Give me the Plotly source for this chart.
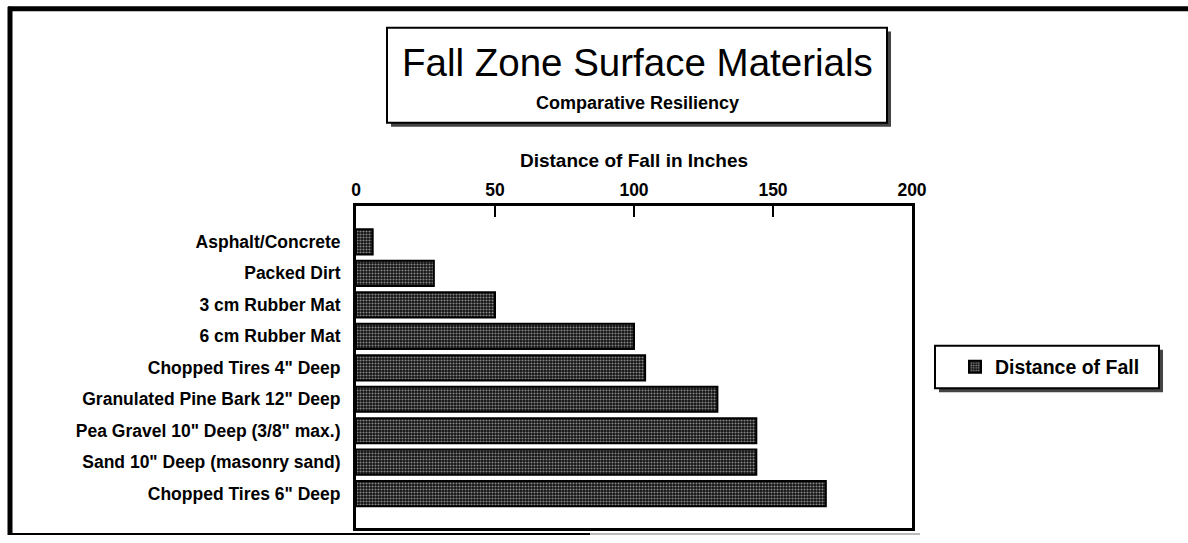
import plotly.graph_objects as go

# ---- data ----
categories = [
    "Asphalt/Concrete",
    "Packed Dirt",
    "3 cm Rubber Mat",
    "6 cm Rubber Mat",
    'Chopped Tires 4" Deep',
    'Granulated Pine Bark 12" Deep',
    'Pea Gravel 10" Deep (3/8" max.)',
    'Sand 10" Deep (masonry sand)',
    'Chopped Tires 6" Deep',
]
distance_of_fall = [6, 28, 50, 100, 104, 130, 144, 144, 169]
series_name = "Distance of Fall"
x_ticks = [0, 50, 100, 150, 200]
title_text = "Fall Zone Surface Materials"
subtitle_text = "Comparative Resiliency"
x_title = "Distance of Fall in Inches"

FONT = "Arial, Liberation Sans, Helvetica, sans-serif"

# plot-area geometry in pixels
W, H = 1188, 543
PL, PR, PT, PB = 356, 912, 206, 531


def px2x(px):
    return (px - PL) / (PR - PL)


def py2y(py):
    return (PB - py) / (PB - PT)


fig = go.Figure()
fig.add_trace(go.Bar(
    y=categories,
    x=distance_of_fall,
    orientation="h",
    name=series_name,
    width=0.8,
    marker=dict(
        color="#111111",
        line=dict(color="black", width=2),
        pattern=dict(shape=".", fgcolor="white", fillmode="overlay", size=3, solidity=0.4),
    ),
    showlegend=True,
))

shapes = []
# outer frame
shapes.append(dict(type="line", xref="paper", yref="paper", x0=px2x(8), x1=px2x(1190), y0=py2y(7), y1=py2y(7),
                   line=dict(color="black", width=5)))
shapes.append(dict(type="line", xref="paper", yref="paper", x0=px2x(10), x1=px2x(10), y0=py2y(5), y1=py2y(538),
                   line=dict(color="black", width=5)))
shapes.append(dict(type="line", xref="paper", yref="paper", x0=px2x(8), x1=px2x(590), y0=py2y(537), y1=py2y(537),
                   line=dict(color="black", width=2)))
shapes.append(dict(type="line", xref="paper", yref="paper", x0=px2x(590), x1=px2x(920), y0=py2y(537), y1=py2y(537),
                   line=dict(color="#bbbbbb", width=2)))

# title box with shadow
shapes.append(dict(type="rect", xref="paper", yref="paper", x0=px2x(391), x1=px2x(891), y0=py2y(30), y1=py2y(126),
                   line=dict(width=0), fillcolor="#444444"))
shapes.append(dict(type="rect", xref="paper", yref="paper", x0=px2x(387), x1=px2x(887), y0=py2y(26), y1=py2y(122),
                   line=dict(color="black", width=2), fillcolor="white"))

# legend box with shadow
shapes.append(dict(type="rect", xref="paper", yref="paper", x0=px2x(939), x1=px2x(1163), y0=py2y(351), y1=py2y(394),
                   line=dict(width=0), fillcolor="#444444"))
shapes.append(dict(type="rect", xref="paper", yref="paper", x0=px2x(935), x1=px2x(1159), y0=py2y(347), y1=py2y(390),
                   line=dict(color="black", width=2), fillcolor="white"))

for s in shapes:
    s["layer"] = "below"

annotations = [
    dict(text=title_text, xref="paper", yref="paper", x=px2x(637), y=py2y(61), xanchor="center", yanchor="middle",
         showarrow=False, font=dict(family=FONT, size=38.5, color="black")),
    dict(text=subtitle_text, xref="paper", yref="paper", x=px2x(637), y=py2y(102), xanchor="center", yanchor="middle",
         showarrow=False, font=dict(family=FONT, size=18, color="black", weight="bold")),
]

fig.update_layout(
    width=W, height=H,
    margin=dict(l=PL, r=W - PR, t=PT, b=H - PB, pad=0),
    paper_bgcolor="white",
    plot_bgcolor="white",
    font=dict(family=FONT, color="black"),
    shapes=shapes,
    annotations=annotations,
    bargap=0.2,
    legend=dict(
        x=px2x(955), y=py2y(368.5), xanchor="left", yanchor="middle",
        bgcolor="rgba(0,0,0,0)", borderwidth=0,
        font=dict(family=FONT, size=19.5, color="black", weight="bold"),
    ),
    xaxis=dict(
        side="top",
        range=[0, 200],
        tickvals=x_ticks,
        ticktext=[str(v) for v in x_ticks],
        ticks="inside", ticklen=11, tickwidth=2, tickcolor="black",
        tickfont=dict(family=FONT, size=17.5, color="black", weight="bold"),
        showgrid=False, zeroline=False,
        showline=True, linecolor="black", linewidth=3, mirror=True,
        title=dict(text=x_title, font=dict(family=FONT, size=19, color="black", weight="bold"), standoff=8),
        fixedrange=True,
    ),
    yaxis=dict(
        type="category",
        categoryorder="array",
        categoryarray=categories,
        range=[9.09, -1.14],
        ticks="",
        ticklabelstandoff=9,
        tickfont=dict(family=FONT, size=17.5, color="black", weight="bold"),
        showgrid=False, zeroline=False,
        showline=True, linecolor="black", linewidth=3, mirror=True,
        fixedrange=True,
    ),
)

fig.write_html(
    "out.html",
    config={"displayModeBar": False},
    post_script="document.body.style.margin='0';document.body.style.overflow='hidden';",
)
